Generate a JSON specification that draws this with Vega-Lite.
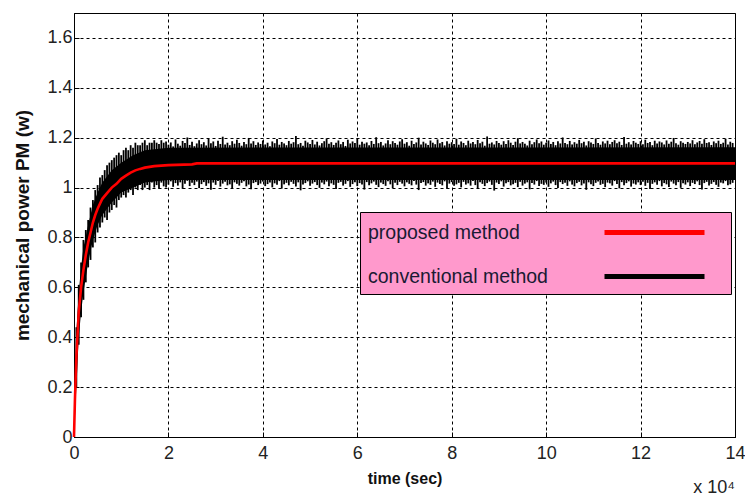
{
  "$schema": "https://vega.github.io/schema/vega-lite/v6.json",
  "width": 661,
  "height": 424,
  "autosize": {"type": "none"},
  "padding": {"left": 74, "top": 13, "right": 10, "bottom": 58},
  "background": "white",
  "title": {"text": "x 10⁴", "orient": "bottom", "anchor": "end", "frame": "group", "offset": -7, "font": "Liberation Sans", "fontSize": 18, "fontWeight": "normal", "color": "#222"},
  "config": {
    "view": {"stroke": "black", "strokeWidth": 1},
    "axis": {
      "domainColor": "black", "tickColor": "black", "gridColor": "black", "gridDash": [3, 3], "gridOpacity": 1, "gridWidth": 1,
      "labelFont": "Liberation Sans", "labelFontSize": 18, "labelColor": "#222", "labelFlush": false,
      "titleFont": "Liberation Sans", "titleFontWeight": "bold", "titleColor": "#111",
      "tickSize": -5
    }
  },
  "datasets": {
    "proposed": [
      {"t": 0, "p": 0}, {"t": 0.02, "p": 0.15}, {"t": 0.05, "p": 0.32}, {"t": 0.1, "p": 0.5}, {"t": 0.15, "p": 0.6},
      {"t": 0.2, "p": 0.67}, {"t": 0.25, "p": 0.73}, {"t": 0.3, "p": 0.78}, {"t": 0.35, "p": 0.82}, {"t": 0.4, "p": 0.86},
      {"t": 0.45, "p": 0.89}, {"t": 0.5, "p": 0.915}, {"t": 0.6, "p": 0.955}, {"t": 0.7, "p": 0.978}, {"t": 0.8, "p": 1.0},
      {"t": 0.9, "p": 1.015}, {"t": 1.0, "p": 1.035}, {"t": 1.1, "p": 1.048}, {"t": 1.2, "p": 1.06}, {"t": 1.3, "p": 1.069},
      {"t": 1.4, "p": 1.075}, {"t": 1.5, "p": 1.08}, {"t": 1.7, "p": 1.086}, {"t": 2.0, "p": 1.09}, {"t": 2.5, "p": 1.093},
      {"t": 2.6, "p": 1.097}, {"t": 14, "p": 1.097}
    ],
    "core": [
      {"t": 0, "lo": 0, "hi": 0}, {"t": 0.05, "lo": 0.2, "hi": 0.42}, {"t": 0.1, "lo": 0.4, "hi": 0.58}, {"t": 0.15, "lo": 0.5, "hi": 0.68},
      {"t": 0.2, "lo": 0.58, "hi": 0.76}, {"t": 0.3, "lo": 0.7, "hi": 0.85}, {"t": 0.4, "lo": 0.79, "hi": 0.93}, {"t": 0.5, "lo": 0.85, "hi": 0.98},
      {"t": 0.6, "lo": 0.89, "hi": 1.02}, {"t": 0.8, "lo": 0.94, "hi": 1.07}, {"t": 1.0, "lo": 0.98, "hi": 1.1}, {"t": 1.25, "lo": 1.0, "hi": 1.13},
      {"t": 1.5, "lo": 1.02, "hi": 1.15}, {"t": 2.0, "lo": 1.03, "hi": 1.16}, {"t": 14, "lo": 1.03, "hi": 1.162}
    ],
    "spikes": [
      {"t":0.05,"lo":0.2,"hi":0.44},{"t":0.1,"lo":0.37,"hi":0.61},{"t":0.15,"lo":0.48,"hi":0.7},{"t":0.2,"lo":0.55,"hi":0.79},{"t":0.25,"lo":0.62,"hi":0.83},
      {"t":0.3,"lo":0.68,"hi":0.87},{"t":0.35,"lo":0.71,"hi":0.92},{"t":0.4,"lo":0.76,"hi":0.95},{"t":0.45,"lo":0.78,"hi":0.99},{"t":0.5,"lo":0.82,"hi":1.01},
      {"t":0.55,"lo":0.84,"hi":1.04},{"t":0.6,"lo":0.86,"hi":1.05},{"t":0.65,"lo":0.88,"hi":1.07},{"t":0.7,"lo":0.87,"hi":1.09},{"t":0.75,"lo":0.9,"hi":1.1},
      {"t":0.8,"lo":0.91,"hi":1.11},{"t":0.85,"lo":0.93,"hi":1.12},{"t":0.9,"lo":0.92,"hi":1.13},{"t":0.95,"lo":0.95,"hi":1.14},{"t":1.0,"lo":0.96,"hi":1.13},
      {"t":1.05,"lo":0.97,"hi":1.15},{"t":1.1,"lo":0.96,"hi":1.16},{"t":1.15,"lo":0.98,"hi":1.15},{"t":1.2,"lo":0.99,"hi":1.17},{"t":1.25,"lo":0.97,"hi":1.16},
      {"t":1.3,"lo":1.0,"hi":1.18},{"t":1.35,"lo":0.99,"hi":1.17},{"t":1.4,"lo":1.01,"hi":1.17},{"t":1.45,"lo":0.99,"hi":1.18},{"t":1.5,"lo":1.0,"hi":1.19},
      {"t":1.55,"lo":1.01,"hi":1.17},{"t":1.6,"lo":0.99,"hi":1.18},{"t":1.65,"lo":1.02,"hi":1.18},{"t":1.7,"lo":1.0,"hi":1.19},{"t":1.75,"lo":1.01,"hi":1.18},
      {"t":1.8,"lo":0.995,"hi":1.175},{"t":1.85,"lo":1.02,"hi":1.19},{"t":1.9,"lo":1.005,"hi":1.18},{"t":1.95,"lo":1.0,"hi":1.185},
      {"t":2.0,"lo":1.012,"hi":1.172},{"t":2.05,"lo":1.025,"hi":1.181},{"t":2.1,"lo":1.003,"hi":1.165},{"t":2.15,"lo":1.018,"hi":1.193},{"t":2.2,"lo":1.008,"hi":1.176},
      {"t":2.25,"lo":1.021,"hi":1.168},{"t":2.3,"lo":0.995,"hi":1.187},{"t":2.35,"lo":1.015,"hi":1.179},{"t":2.4,"lo":1.027,"hi":1.201},{"t":2.45,"lo":1.006,"hi":1.171},
      {"t":2.5,"lo":1.019,"hi":1.184},{"t":2.55,"lo":1.01,"hi":1.166},{"t":2.6,"lo":1.024,"hi":1.177},{"t":2.65,"lo":0.998,"hi":1.19},{"t":2.7,"lo":1.014,"hi":1.174},
      {"t":2.75,"lo":1.022,"hi":1.182},{"t":2.8,"lo":1.007,"hi":1.169},{"t":2.85,"lo":1.017,"hi":1.196},{"t":2.9,"lo":0.991,"hi":1.178},{"t":2.95,"lo":1.02,"hi":1.185},
      {"t":3.0,"lo":1.011,"hi":1.167},{"t":3.05,"lo":1.026,"hi":1.188},{"t":3.1,"lo":1.004,"hi":1.175},{"t":3.15,"lo":1.016,"hi":1.204},{"t":3.2,"lo":1.023,"hi":1.173},
      {"t":3.25,"lo":1.009,"hi":1.18},{"t":3.3,"lo":1.013,"hi":1.17},{"t":3.35,"lo":0.997,"hi":1.186},{"t":3.4,"lo":1.021,"hi":1.176},{"t":3.45,"lo":1.015,"hi":1.192},
      {"t":3.5,"lo":1.008,"hi":1.179},{"t":3.55,"lo":1.019,"hi":1.168},{"t":3.6,"lo":1.025,"hi":1.183},{"t":3.65,"lo":1.005,"hi":1.174},{"t":3.7,"lo":1.012,"hi":1.199},
      {"t":3.75,"lo":0.993,"hi":1.177},{"t":3.8,"lo":1.018,"hi":1.186},{"t":3.85,"lo":1.022,"hi":1.171},{"t":3.9,"lo":1.01,"hi":1.181},{"t":3.95,"lo":1.016,"hi":1.175},
      {"t":4.0,"lo":1.024,"hi":1.189},{"t":4.05,"lo":1.006,"hi":1.173},{"t":4.1,"lo":1.014,"hi":1.18},{"t":4.15,"lo":1.02,"hi":1.166},{"t":4.2,"lo":1.001,"hi":1.185},
      {"t":4.25,"lo":1.017,"hi":1.178},{"t":4.3,"lo":1.011,"hi":1.195},{"t":4.35,"lo":1.026,"hi":1.172},{"t":4.4,"lo":0.996,"hi":1.183},{"t":4.45,"lo":1.013,"hi":1.177},
      {"t":4.5,"lo":1.019,"hi":1.17},{"t":4.55,"lo":1.009,"hi":1.187},{"t":4.6,"lo":1.023,"hi":1.176},{"t":4.65,"lo":1.015,"hi":1.182},{"t":4.7,"lo":1.004,"hi":1.207},
      {"t":4.75,"lo":1.021,"hi":1.174},{"t":4.8,"lo":0.989,"hi":1.179},{"t":4.85,"lo":1.012,"hi":1.168},{"t":4.9,"lo":1.018,"hi":1.188},{"t":4.95,"lo":1.025,"hi":1.181},
      {"t":5.0,"lo":1.007,"hi":1.175},{"t":5.05,"lo":1.016,"hi":1.191},{"t":5.1,"lo":1.022,"hi":1.173},{"t":5.15,"lo":1.01,"hi":1.184},{"t":5.2,"lo":0.999,"hi":1.169},
      {"t":5.25,"lo":1.02,"hi":1.178},{"t":5.3,"lo":1.013,"hi":1.186},{"t":5.35,"lo":1.024,"hi":1.197},{"t":5.4,"lo":1.005,"hi":1.176},{"t":5.45,"lo":1.017,"hi":1.182},
      {"t":5.5,"lo":1.011,"hi":1.171},{"t":5.55,"lo":0.994,"hi":1.18},{"t":5.6,"lo":1.019,"hi":1.189},{"t":5.65,"lo":1.023,"hi":1.174},{"t":5.7,"lo":1.008,"hi":1.183},
      {"t":5.75,"lo":1.015,"hi":1.167},{"t":5.8,"lo":1.026,"hi":1.192},{"t":5.85,"lo":1.003,"hi":1.177},{"t":5.9,"lo":1.014,"hi":1.185},{"t":5.95,"lo":1.021,"hi":1.179},
      {"t":6.0,"lo":1.006,"hi":1.198},{"t":6.05,"lo":1.018,"hi":1.172},{"t":6.1,"lo":1.012,"hi":1.184},{"t":6.15,"lo":0.992,"hi":1.176},{"t":6.2,"lo":1.022,"hi":1.181},
      {"t":6.25,"lo":1.009,"hi":1.17},{"t":6.3,"lo":1.017,"hi":1.187},{"t":6.35,"lo":1.024,"hi":1.175},{"t":6.4,"lo":1.011,"hi":1.202},{"t":6.45,"lo":1.002,"hi":1.178},
      {"t":6.5,"lo":1.02,"hi":1.183},{"t":6.55,"lo":1.014,"hi":1.169},{"t":6.6,"lo":1.007,"hi":1.177},{"t":6.65,"lo":1.025,"hi":1.19},{"t":6.7,"lo":1.013,"hi":1.174},
      {"t":6.75,"lo":0.997,"hi":1.186},{"t":6.8,"lo":1.019,"hi":1.179},{"t":6.85,"lo":1.01,"hi":1.172},{"t":6.9,"lo":1.023,"hi":1.185},{"t":6.95,"lo":1.016,"hi":1.194},
      {"t":7.0,"lo":1.005,"hi":1.176},{"t":7.05,"lo":1.021,"hi":1.182},{"t":7.1,"lo":1.015,"hi":1.168},{"t":7.15,"lo":1.009,"hi":1.188},{"t":7.2,"lo":1.026,"hi":1.175},
      {"t":7.25,"lo":1.012,"hi":1.181},{"t":7.3,"lo":0.99,"hi":1.2},{"t":7.35,"lo":1.018,"hi":1.173},{"t":7.4,"lo":1.022,"hi":1.184},{"t":7.45,"lo":1.008,"hi":1.177},
      {"t":7.5,"lo":1.017,"hi":1.171},{"t":7.55,"lo":1.011,"hi":1.189},{"t":7.6,"lo":1.024,"hi":1.18},{"t":7.65,"lo":1.003,"hi":1.174},{"t":7.7,"lo":1.02,"hi":1.193},
      {"t":7.75,"lo":1.014,"hi":1.178},{"t":7.8,"lo":1.009,"hi":1.183},{"t":7.85,"lo":1.025,"hi":1.169},{"t":7.9,"lo":0.995,"hi":1.186},{"t":7.95,"lo":1.016,"hi":1.176},
      {"t":8.0,"lo":1.022,"hi":1.182},{"t":8.05,"lo":1.007,"hi":1.175},{"t":8.1,"lo":1.013,"hi":1.196},{"t":8.15,"lo":1.019,"hi":1.172},{"t":8.2,"lo":1.001,"hi":1.185},
      {"t":8.25,"lo":1.023,"hi":1.179},{"t":8.3,"lo":1.012,"hi":1.17},{"t":8.35,"lo":1.017,"hi":1.188},{"t":8.4,"lo":1.008,"hi":1.177},{"t":8.45,"lo":1.026,"hi":1.183},
      {"t":8.5,"lo":1.01,"hi":1.174},{"t":8.55,"lo":0.996,"hi":1.191},{"t":8.6,"lo":1.021,"hi":1.178},{"t":8.65,"lo":1.015,"hi":1.184},{"t":8.7,"lo":1.006,"hi":1.168},
      {"t":8.75,"lo":1.018,"hi":1.205},{"t":8.8,"lo":1.024,"hi":1.176},{"t":8.85,"lo":1.011,"hi":1.181},{"t":8.9,"lo":0.988,"hi":1.173},{"t":8.95,"lo":1.02,"hi":1.187},
      {"t":9.0,"lo":1.014,"hi":1.179},{"t":9.05,"lo":1.025,"hi":1.172},{"t":9.1,"lo":1.004,"hi":1.186},{"t":9.15,"lo":1.017,"hi":1.175},{"t":9.2,"lo":1.022,"hi":1.19},
      {"t":9.25,"lo":1.009,"hi":1.18},{"t":9.3,"lo":1.013,"hi":1.171},{"t":9.35,"lo":1.019,"hi":1.184},{"t":9.4,"lo":1.002,"hi":1.198},{"t":9.45,"lo":1.023,"hi":1.177},
      {"t":9.5,"lo":1.008,"hi":1.183},{"t":9.55,"lo":1.016,"hi":1.176},{"t":9.6,"lo":1.021,"hi":1.169},{"t":9.65,"lo":0.993,"hi":1.188},{"t":9.7,"lo":1.018,"hi":1.174},
      {"t":9.75,"lo":1.012,"hi":1.182},{"t":9.8,"lo":1.026,"hi":1.193},{"t":9.85,"lo":1.006,"hi":1.178},{"t":9.9,"lo":1.015,"hi":1.185},{"t":9.95,"lo":1.011,"hi":1.172},
      {"t":10.0,"lo":1.02,"hi":1.18},{"t":10.05,"lo":1.003,"hi":1.189},{"t":10.1,"lo":1.017,"hi":1.175},{"t":10.15,"lo":1.024,"hi":1.183},{"t":10.2,"lo":1.01,"hi":1.17},
      {"t":10.25,"lo":0.998,"hi":1.186},{"t":10.3,"lo":1.022,"hi":1.177},{"t":10.35,"lo":1.014,"hi":1.201},{"t":10.4,"lo":1.019,"hi":1.179},{"t":10.45,"lo":1.007,"hi":1.174},
      {"t":10.5,"lo":1.025,"hi":1.187},{"t":10.55,"lo":1.012,"hi":1.173},{"t":10.6,"lo":1.005,"hi":1.182},{"t":10.65,"lo":1.018,"hi":1.176},{"t":10.7,"lo":1.023,"hi":1.191},
      {"t":10.75,"lo":1.009,"hi":1.178},{"t":10.8,"lo":1.016,"hi":1.184},{"t":10.85,"lo":0.991,"hi":1.169},{"t":10.9,"lo":1.021,"hi":1.186},{"t":10.95,"lo":1.013,"hi":1.181},
      {"t":11.0,"lo":1.006,"hi":1.175},{"t":11.05,"lo":1.019,"hi":1.197},{"t":11.1,"lo":1.024,"hi":1.179},{"t":11.15,"lo":1.011,"hi":1.172},{"t":11.2,"lo":1.015,"hi":1.185},
      {"t":11.25,"lo":1.002,"hi":1.177},{"t":11.3,"lo":1.02,"hi":1.188},{"t":11.35,"lo":1.017,"hi":1.174},{"t":11.4,"lo":1.008,"hi":1.183},{"t":11.45,"lo":1.026,"hi":1.19},
      {"t":11.5,"lo":1.014,"hi":1.178},{"t":11.55,"lo":0.997,"hi":1.184},{"t":11.6,"lo":1.022,"hi":1.171},{"t":11.65,"lo":1.009,"hi":1.203},{"t":11.7,"lo":1.018,"hi":1.176},
      {"t":11.75,"lo":1.025,"hi":1.182},{"t":11.8,"lo":1.004,"hi":1.173},{"t":11.85,"lo":1.016,"hi":1.187},{"t":11.9,"lo":1.012,"hi":1.18},{"t":11.95,"lo":1.021,"hi":1.175},
      {"t":12.0,"lo":1.01,"hi":1.186},{"t":12.05,"lo":1.023,"hi":1.174},{"t":12.1,"lo":1.007,"hi":1.192},{"t":12.15,"lo":1.019,"hi":1.179},{"t":12.2,"lo":0.994,"hi":1.183},
      {"t":12.25,"lo":1.015,"hi":1.17},{"t":12.3,"lo":1.021,"hi":1.188},{"t":12.35,"lo":1.011,"hi":1.177},{"t":12.4,"lo":1.026,"hi":1.185},{"t":12.45,"lo":1.005,"hi":1.181},
      {"t":12.5,"lo":1.018,"hi":1.173},{"t":12.55,"lo":1.013,"hi":1.189},{"t":12.6,"lo":1.002,"hi":1.176},{"t":12.65,"lo":1.024,"hi":1.184},{"t":12.7,"lo":1.016,"hi":1.199},
      {"t":12.75,"lo":1.009,"hi":1.178},{"t":12.8,"lo":1.022,"hi":1.172},{"t":12.85,"lo":0.999,"hi":1.186},{"t":12.9,"lo":1.017,"hi":1.18},{"t":12.95,"lo":1.012,"hi":1.175},
      {"t":13.0,"lo":1.021,"hi":1.183},{"t":13.05,"lo":1.006,"hi":1.177},{"t":13.1,"lo":1.019,"hi":1.19},{"t":13.15,"lo":1.014,"hi":1.174},{"t":13.2,"lo":1.025,"hi":1.181},
      {"t":13.25,"lo":1.01,"hi":1.187},{"t":13.3,"lo":0.992,"hi":1.176},{"t":13.35,"lo":1.018,"hi":1.194},{"t":13.4,"lo":1.023,"hi":1.179},{"t":13.45,"lo":1.008,"hi":1.182},
      {"t":13.5,"lo":1.015,"hi":1.171},{"t":13.55,"lo":1.022,"hi":1.185},{"t":13.6,"lo":1.011,"hi":1.178},{"t":13.65,"lo":1.003,"hi":1.188},{"t":13.7,"lo":1.02,"hi":1.175},
      {"t":13.75,"lo":1.017,"hi":1.18},{"t":13.8,"lo":1.026,"hi":1.196},{"t":13.85,"lo":1.009,"hi":1.173},{"t":13.9,"lo":1.013,"hi":1.184},{"t":13.95,"lo":1.019,"hi":1.179}
    ]
  },
  "layer": [
    {
      "data": {"name": "core"},
      "mark": {"type": "area", "color": "black"},
      "encoding": {
        "x": {"field": "t", "type": "quantitative", "scale": {"domain": [0, 14], "nice": false},
              "axis": {"values": [0, 2, 4, 6, 8, 10, 12, 14], "format": "d", "title": "time (sec)", "titleFontSize": 16, "titlePadding": 8, "labelPadding": 12}},
        "y": {"field": "lo", "type": "quantitative", "scale": {"domain": [0, 1.7], "nice": false},
              "axis": {"values": [0, 0.2, 0.4, 0.6, 0.8, 1, 1.2, 1.4, 1.6], "format": "~g", "title": "mechanical power PM (w)", "titleFontSize": 19, "titlePadding": 14, "labelPadding": 7}},
        "y2": {"field": "hi"}
      }
    },
    {
      "data": {"name": "spikes"},
      "mark": {"type": "rule", "strokeWidth": 1.8},
      "encoding": {
        "x": {"field": "t", "type": "quantitative"},
        "y": {"field": "lo", "type": "quantitative"},
        "y2": {"field": "hi"},
        "color": {"datum": "conventional method", "type": "nominal"}
      }
    },
    {
      "data": {"name": "proposed"},
      "mark": {"type": "line", "strokeWidth": 2.6},
      "encoding": {
        "x": {"field": "t", "type": "quantitative"},
        "y": {"field": "p", "type": "quantitative"},
        "color": {"datum": "proposed method", "type": "nominal",
          "scale": {"domain": ["proposed method", "conventional method"], "range": ["#ff0000", "#000000"]},
          "legend": {"title": null, "orient": "none", "legendX": 286, "legendY": 199,
            "fillColor": "#ff99cc", "strokeColor": "black", "padding": 7,
            "symbolType": "M0,0H10", "symbolSize": 475, "symbolStrokeWidth": 5, "symbolOffset": 224, "symbolDash": [100, 100],
            "labelOffset": -250, "labelLimit": 0, "rowPadding": 20,
            "labelFont": "Liberation Sans", "labelFontSize": 19.5, "labelColor": "#1a1a33"}
        }
      }
    }
  ]
}
